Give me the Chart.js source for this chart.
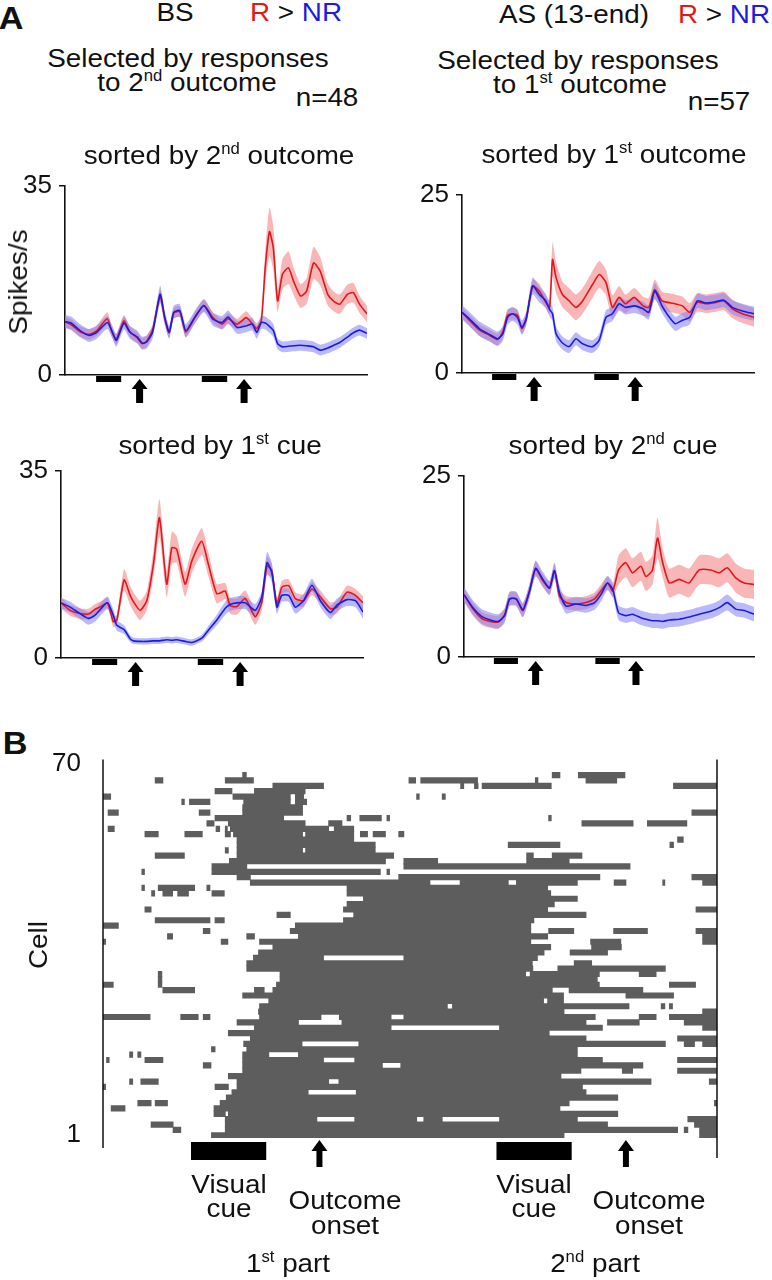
<!DOCTYPE html>
<html>
<head>
<meta charset="utf-8">
<title>R vs NR responses</title>
<script src="https://cdn.jsdelivr.net/npm/chart.js@4.4.1/dist/chart.umd.min.js"></script>
<style>
  html, body { margin: 0; padding: 0; background: #fff; }
  #page { position: relative; width: 772px; height: 1280px; overflow: hidden;
          font-family: "Liberation Sans", Arial, sans-serif; color: #111; }
  canvas { position: absolute; }
  .lbl { position: absolute; white-space: nowrap; line-height: 1; font-size: 26px; }
  .lbl sup { font-size: 0.6em; vertical-align: 0; position: relative; top: -0.62em; }
  .red { color: #e4161d; }
  .blue { color: #1c1ce0; }
</style>
</head>
<body>
<div id="page">
  <canvas id="chartTL"></canvas>
  <canvas id="chartTR"></canvas>
  <canvas id="chartBL"></canvas>
  <canvas id="chartBR"></canvas>
  <canvas id="chartRaster"></canvas>
</div>
<script>
// ---- Panel A data (time in % of trial window, rate in spikes/s) ----
const cueWindows = [[10.3, 18.6], [45.3, 53.7]];
const outcomeTimes = [24.7, 59.3];

// sorted by 2nd outcome (BS)
const timeTL = [0, 2, 5, 8, 10.5, 14, 15.5, 17, 19.5, 21.5, 24, 25.5, 27, 29, 31.5, 33, 34.5, 36, 38, 40, 43, 46, 49, 52, 54, 57, 60, 62, 63.5, 65, 66.3, 67.7, 69, 70.4, 72, 74, 75.7, 78, 80, 82.3, 84.5, 87, 89, 91, 93.5, 95.5, 97.5, 100];
const redTL = [9.8, 9.3, 8.0, 7.5, 8.2, 10.4, 8.0, 6.6, 10.0, 8.0, 6.8, 5.8, 6.2, 8.3, 14.6, 10.5, 7.8, 11.4, 11.7, 7.9, 10.6, 12.9, 10.6, 9.4, 10.4, 9.4, 10.6, 9.5, 8.6, 10.0, 19.8, 26.5, 23.4, 13.7, 18.6, 19.8, 17.3, 14.6, 15.5, 20.7, 19.2, 14.9, 13.6, 13.1, 14.9, 15.2, 13.1, 11.3];
const redSemTL = [1.0, 1.0, 1.0, 1.0, 1.0, 1.2, 1.0, 1.0, 1.1, 1.0, 1.0, 1.0, 1.0, 1.0, 1.2, 1.0, 1.0, 1.0, 1.0, 1.0, 1.0, 1.1, 1.0, 1.0, 1.0, 1.0, 1.2, 1.0, 1.0, 1.0, 3.0, 4.5, 4.0, 2.0, 2.8, 3.0, 2.5, 2.2, 2.4, 3.0, 2.6, 2.0, 1.8, 1.8, 1.8, 1.8, 1.6, 1.5];
const blueTL = [9.9, 9.6, 8.2, 7.3, 7.9, 9.7, 8.2, 6.4, 9.6, 7.9, 7.0, 5.9, 6.1, 7.9, 14.9, 10.7, 7.9, 11.6, 11.9, 8.2, 10.7, 12.8, 10.3, 9.7, 10.7, 8.8, 9.1, 9.4, 7.9, 9.7, 9.6, 9.0, 8.2, 5.8, 5.2, 5.3, 5.4, 5.5, 5.4, 5.2, 4.6, 5.0, 5.5, 6.0, 7.0, 7.8, 8.3, 7.7];
const blueSemTL = [1.2, 1.2, 1.2, 1.2, 1.2, 1.2, 1.2, 1.2, 1.2, 1.2, 1.2, 1.2, 1.2, 1.2, 1.6, 1.3, 1.2, 1.2, 1.2, 1.2, 1.2, 1.2, 1.2, 1.2, 1.2, 1.2, 1.2, 1.2, 1.2, 1.2, 1.2, 1.2, 1.2, 1.0, 1.0, 1.0, 1.0, 1.0, 1.0, 1.0, 1.0, 1.0, 1.0, 1.0, 1.0, 1.0, 1.0, 1.0];

// sorted by 1st outcome (AS)
const timeTR = [0, 2.5, 6, 9.4, 12.2, 14, 15.6, 17.3, 19, 20.5, 22, 24.2, 26.5, 28.7, 30, 31, 32.2, 34.4, 36.7, 39, 41.3, 44.7, 47, 49.3, 51.5, 53.8, 56, 59, 62, 64, 66, 68.5, 70.5, 73, 75.5, 78, 80.6, 83.5, 87, 89.7, 92.6, 96, 100];
const redTR = [8.5, 7.4, 6.0, 5.3, 4.7, 5.8, 8.1, 8.3, 8.1, 6.2, 7.6, 12.2, 11.5, 9.9, 9.2, 15.9, 13.4, 11.0, 10.1, 9.2, 10.1, 12.4, 13.8, 12.7, 9.2, 10.6, 9.7, 10.6, 9.4, 9.2, 11.7, 10.1, 9.9, 9.7, 9.4, 8.5, 9.9, 9.7, 9.9, 10.1, 9.0, 8.3, 7.8];
const redSemTR = [0.8, 0.8, 0.8, 0.8, 0.8, 0.8, 0.8, 0.8, 0.8, 0.8, 0.8, 0.9, 1.0, 0.9, 1.0, 2.4, 2.2, 1.8, 1.8, 1.8, 1.8, 1.9, 1.9, 1.8, 1.7, 1.6, 1.3, 1.3, 1.3, 1.3, 1.4, 1.3, 1.3, 1.3, 1.3, 1.3, 1.3, 1.3, 1.3, 1.3, 1.3, 1.3, 1.3];
const blueTR = [8.5, 7.6, 6.2, 5.4, 4.8, 5.5, 7.8, 8.3, 7.8, 6.4, 7.6, 12.2, 11.0, 10.1, 8.9, 8.3, 5.5, 4.2, 3.7, 4.8, 4.1, 3.7, 4.6, 7.8, 8.3, 9.7, 9.2, 9.4, 9.0, 8.5, 11.5, 9.4, 8.1, 6.9, 7.4, 7.8, 10.1, 9.8, 10.0, 10.2, 9.2, 8.7, 8.3];
const blueSemTR = [1.0, 1.0, 1.0, 1.0, 1.0, 1.0, 1.0, 1.0, 1.0, 1.0, 1.0, 1.2, 1.1, 1.0, 1.0, 1.0, 1.0, 0.9, 0.9, 0.9, 0.9, 0.9, 0.9, 1.0, 1.0, 1.0, 1.0, 1.0, 1.0, 1.0, 1.1, 1.0, 1.0, 1.0, 1.0, 1.0, 1.0, 1.0, 1.0, 1.0, 1.0, 1.0, 1.0];

// sorted by 1st cue (BS)
const timeBL = [0, 3, 6.3, 9.1, 11.3, 12.9, 15.4, 17.3, 18.5, 20.9, 22.9, 24, 26.2, 28.4, 30.6, 32.6, 35, 36.7, 38.3, 41.1, 43.3, 46.6, 48.8, 51.6, 54.4, 56, 58.2, 61, 64.3, 66.5, 68.2, 69.8, 71.5, 73.1, 75.4, 77.6, 80.3, 83.1, 85.9, 89.2, 91.4, 94.7, 97.5, 100];
const redBL = [10.3, 8.9, 8.3, 8.2, 9.1, 9.5, 10.3, 6.8, 7.1, 14.6, 11.7, 10.5, 8.9, 10.7, 17.5, 26.2, 13.8, 20.6, 20.3, 13.8, 18.1, 21.8, 17.5, 12.0, 12.5, 9.8, 9.6, 11.1, 7.7, 10.4, 17.2, 16.3, 10.1, 13.2, 13.5, 11.1, 10.7, 12.9, 11.4, 9.2, 9.5, 12.3, 11.7, 10.3];
const redSemBL = [1.0, 1.0, 1.0, 1.0, 1.0, 1.0, 1.0, 1.0, 1.0, 2.0, 1.8, 1.8, 1.8, 1.8, 2.5, 3.5, 2.5, 3.0, 2.5, 2.3, 2.3, 2.5, 2.2, 1.8, 1.5, 1.5, 1.5, 1.5, 1.5, 1.5, 1.8, 1.2, 1.2, 1.2, 1.2, 1.2, 1.2, 1.2, 1.2, 1.2, 1.2, 1.2, 1.2, 1.2];
const blueBL = [10.3, 9.5, 8.3, 7.4, 8.0, 9.0, 10.3, 8.0, 6.1, 5.3, 3.6, 3.2, 3.1, 3.1, 3.2, 3.2, 3.4, 3.3, 3.4, 3.1, 2.9, 3.7, 5.2, 7.1, 9.3, 10.0, 10.3, 10.3, 8.9, 11.4, 17.8, 16.0, 9.5, 11.7, 11.7, 9.5, 10.7, 13.6, 10.7, 8.5, 9.9, 10.9, 10.7, 8.6];
const blueSemBL = [1.0, 1.0, 1.0, 1.2, 1.2, 1.2, 1.2, 1.2, 1.0, 0.8, 0.6, 0.6, 0.6, 0.6, 0.6, 0.6, 0.6, 0.6, 0.6, 0.6, 0.6, 0.6, 0.8, 1.0, 1.2, 1.2, 1.2, 1.2, 1.2, 1.2, 2.0, 1.8, 1.2, 1.2, 1.2, 1.2, 1.2, 1.2, 1.2, 1.2, 1.2, 1.2, 1.2, 1.2];

// sorted by 2nd cue (AS)
const timeBR = [0, 3.1, 6.5, 11.7, 14, 15.7, 18, 20.3, 22.6, 24.7, 27.2, 29.5, 31.2, 32.9, 35.2, 38.6, 42.1, 45, 47.2, 49.5, 51.3, 53.3, 55.8, 58.1, 61, 62.7, 65, 66.7, 68.5, 70.8, 74.2, 77.6, 81.1, 85.1, 88, 90.8, 93.7, 96.6, 100];
const redBR = [8.6, 6.6, 5.2, 4.8, 5.8, 8.0, 8.0, 6.4, 9.1, 12.2, 10.5, 9.5, 11.9, 8.4, 7.5, 7.3, 7.5, 8.0, 9.1, 10.2, 9.1, 12.0, 13.0, 11.6, 12.5, 11.1, 12.0, 16.4, 13.0, 10.2, 10.7, 10.2, 12.0, 12.0, 11.6, 12.3, 10.9, 10.2, 10.0];
const redSemBR = [0.9, 0.9, 0.9, 0.9, 0.9, 0.9, 0.9, 0.9, 0.9, 1.0, 0.9, 0.9, 1.0, 0.9, 0.9, 0.9, 0.9, 0.9, 0.9, 0.9, 0.9, 2.0, 2.0, 2.0, 2.0, 2.0, 2.0, 2.8, 2.0, 2.0, 2.0, 2.0, 2.0, 2.0, 2.0, 2.0, 2.0, 2.0, 2.0];
const blueBR = [8.6, 6.8, 5.5, 4.9, 5.7, 8.0, 8.0, 6.5, 9.1, 12.2, 10.7, 9.5, 11.9, 8.9, 7.0, 7.3, 7.1, 7.5, 8.6, 10.2, 9.3, 6.1, 5.7, 5.9, 5.4, 5.2, 5.0, 5.0, 4.9, 5.1, 5.2, 5.5, 5.9, 6.3, 6.8, 7.5, 6.6, 6.4, 5.9];
const blueSemBR = [1.0, 1.0, 1.0, 1.0, 1.0, 1.0, 1.0, 1.0, 1.0, 1.1, 1.0, 1.0, 1.1, 1.0, 1.0, 1.0, 1.0, 1.0, 1.0, 1.0, 1.0, 1.0, 1.0, 1.0, 1.0, 1.0, 1.0, 1.0, 1.0, 1.0, 1.0, 1.0, 1.0, 1.0, 1.0, 1.1, 1.0, 1.0, 1.0];

// ---- Panel B data: significant epochs per cell, [cell, startBin, endBin] ----
const cellCount = 70;
const rasterCueWindows = [[17.2, 31.9], [76.9, 91.6]];
const rasterOutcomeTimes = [42.3, 102.2];
const cellSegments = [
  [68, 27.3, 28.0], [68, 87.8, 89.3], [68, 92.9, 102.0],
  [67, 10.2, 11.7], [67, 23.9, 29.4], [67, 59.8, 61.1], [67, 62.1, 73.2], [67, 84.5, 85.0], [67, 94.4, 100.4],
  [66, 33.2, 43.1], [66, 69.9, 70.5], [66, 72.6, 73.3], [66, 74.1, 87.6], [66, 111.5, 120],
  [65, 21.9, 25.2], [65, 29.6, 39.5],
  [64, 0, 1.5], [64, 25.4, 36.6], [64, 37.6, 39.2], [64, 61.3, 61.8], [64, 66.3, 66.9],
  [63, 15.4, 15.9], [63, 16.9, 20.9], [63, 27.5, 36.6], [63, 37.6, 39.8],
  [62, 27.3, 39.0],
  [61, 1.0, 3.0], [61, 18.8, 20.9], [61, 27.3, 39.0], [61, 115.1, 120],
  [60, 21.9, 35.3], [60, 47.7, 48.4], [60, 50.2, 54.4], [60, 55.5, 56.0], [60, 87.1, 87.6],
  [59, 20.3, 21.7], [59, 24.5, 39.5], [59, 44.1, 46.7], [59, 93.6, 103.6], [59, 106.4, 114.1],
  [58, 1.0, 2.2], [58, 22.1, 22.8], [58, 23.9, 24.3], [58, 24.9, 44.1], [58, 45.2, 49.0],
  [57, 8.2, 10.8], [57, 16.0, 19.4], [57, 23.9, 24.9], [57, 25.5, 39.0], [57, 39.6, 49.0], [57, 50.3, 51.7], [57, 52.8, 55.2], [57, 57.8, 58.8],
  [56, 26.2, 49.0], [56, 112.3, 113.4],
  [55, 26.2, 53.2], [55, 79.2, 89.3], [55, 110.8, 111.5],
  [54, 23.9, 24.5], [54, 26.2, 39.0], [54, 39.6, 53.2],
  [53, 10.2, 15.9], [53, 26.2, 56.8], [53, 82.8, 84.1], [53, 87.8, 93.6],
  [52, 24.7, 55.2], [52, 58.8, 65.4], [52, 82.8, 91.1],
  [51, 21.3, 28.1], [51, 58.8, 103.0],
  [50, 7.6, 8.1], [50, 21.3, 54.2], [50, 55.5, 56.0],
  [49, 26.2, 28.8], [49, 57.8, 97.1], [49, 115.1, 120],
  [48, 28.8, 63.9], [48, 69.8, 79.2], [48, 80.8, 92.7], [48, 99.9, 102.2], [48, 109.4, 109.8], [48, 117.2, 120],
  [47, 7.6, 8.1], [47, 10.8, 17.9], [47, 20.3, 20.9], [47, 47.7, 86.9],
  [46, 9.5, 10.1], [46, 11.7, 13.6], [46, 14.6, 16.7], [46, 21.3, 23.7], [46, 47.7, 87.5],
  [45, 50.9, 92.7],
  [44, 47.7, 88.2],
  [43, 8.2, 9.4], [43, 47.0, 86.9], [43, 115.9, 120],
  [42, 34.0, 36.6], [42, 49.0, 94.4],
  [41, 10.2, 20.9], [41, 21.9, 23.7], [41, 47.0, 84.2],
  [40, 0, 3.0], [40, 37.6, 83.6],
  [39, 19.6, 20.9], [39, 36.6, 83.6], [39, 87.1, 92.0], [39, 99.8, 106.4], [39, 115.9, 120],
  [38, 12.6, 13.6], [38, 28.1, 29.6], [38, 38.2, 86.9], [38, 117.2, 120],
  [37, 0, 0.5], [37, 23.1, 24.4], [37, 30.6, 83.6], [37, 95.3, 101.2], [37, 117.2, 120],
  [36, 33.2, 87.5], [36, 95.5, 101.3],
  [35, 30.4, 86.2], [35, 91.3, 98.6],
  [34, 29.4, 43.1], [34, 58.8, 84.9],
  [33, 28.1, 83.9], [33, 92.1, 95.5],
  [32, 28.1, 84.0], [32, 88.9, 109.9],
  [31, 10.8, 11.5], [31, 34.6, 82.6], [31, 83.5, 97.0], [31, 104.8, 108.1],
  [30, 10.8, 11.5], [30, 34.6, 96.6],
  [29, 0, 2.0], [29, 10.8, 11.5], [29, 33.9, 97.0], [29, 110.7, 115.8],
  [28, 11.7, 17.9], [28, 29.6, 31.5], [28, 33.2, 87.8], [28, 91.1, 105.5],
  [27, 27.3, 90.0], [27, 102.2, 111.5],
  [26, 32.4, 86.1], [26, 86.9, 90.0],
  [25, 30.6, 67.3], [25, 68.3, 102.8], [25, 109.1, 109.8], [25, 110.7, 111.3],
  [24, 30.4, 90.1], [24, 117.2, 120],
  [23, 0, 9.2], [23, 15.2, 18.6], [23, 19.6, 20.9], [23, 30.6, 42.6], [23, 46.2, 56.3], [23, 58.8, 96.2], [23, 104.8, 108.1], [23, 110.7, 120],
  [22, 26.2, 38.2], [22, 46.7, 94.4], [22, 98.6, 104.8], [22, 113.6, 120],
  [21, 29.6, 56.3], [21, 77.5, 97.6], [21, 117.2, 120],
  [20, 24.5, 87.2],
  [19, 28.8, 94.4], [19, 112.3, 120],
  [18, 27.5, 38.9], [18, 50.0, 109.9], [18, 113.6, 115.6], [18, 117.2, 120],
  [17, 21.2, 21.9], [17, 28.1, 92.7],
  [16, 5.2, 5.8], [16, 6.8, 7.4], [16, 27.3, 32.4], [16, 38.2, 92.7],
  [15, 0.7, 1.2], [15, 8.2, 11.7], [15, 27.3, 43.1], [15, 49.2, 97.6], [15, 112.3, 120],
  [14, 19.6, 21.1], [14, 27.3, 54.6], [14, 58.2, 105.5],
  [13, 27.3, 93.4], [13, 101.5, 103.5], [13, 112.3, 120],
  [12, 24.5, 89.5],
  [11, 5.2, 5.8], [11, 7.4, 10.8], [11, 26.2, 44.1], [11, 46.1, 107.1], [11, 118.5, 120],
  [10, 0, 0.5], [10, 21.9, 24.5], [10, 26.2, 93.7],
  [9, 25.2, 40.1], [9, 49.5, 94.4],
  [8, 24.1, 100.6],
  [7, 6.8, 9.4], [7, 10.2, 12.6], [7, 22.9, 91.1], [7, 119.5, 120],
  [6, 1.6, 4.3], [6, 21.7, 89.3],
  [5, 21.7, 23.9], [5, 24.5, 100.6],
  [4, 23.9, 41.8], [4, 49.2, 61.3], [4, 62.7, 66.3], [4, 77.5, 92.7], [4, 114.3, 120],
  [3, 9.4, 13.7], [3, 23.9, 98.6], [3, 115.6, 120],
  [2, 13.7, 15.2], [2, 23.9, 112.3], [2, 113.6, 114.3], [2, 116.6, 120],
  [1, 21.2, 90.1], [1, 116.6, 120]
];

// ---- styling ----
const FONT = { family: '"Liberation Sans", Arial, sans-serif', size: 26 };
const RED = '#e4161d';
const BLUE = '#1c1ce0';
const RED_BAND = 'rgba(245, 130, 130, 0.58)';
const BLUE_BAND = 'rgba(130, 130, 245, 0.55)';
const AXIS_W = 60, PAD_T = 20, PAD_R = 12, AXIS_H = 40;

function drawArrow(ctx, x, tipY, len, headW, headH, stemW) {
    ctx.beginPath();
    ctx.moveTo(x, tipY);
    ctx.lineTo(x + headW / 2, tipY + headH);
    ctx.lineTo(x + stemW / 2, tipY + headH);
    ctx.lineTo(x + stemW / 2, tipY + len);
    ctx.lineTo(x - stemW / 2, tipY + len);
    ctx.lineTo(x - stemW / 2, tipY + headH);
    ctx.lineTo(x - headW / 2, tipY + headH);
    ctx.closePath();
    ctx.fill();
}

// cue bars and outcome arrows below the time axis
const eventMarks = {
    id: 'eventMarks',
    afterDraw(chart, args, opts) {
        const { ctx, chartArea } = chart;
        const x = chart.scales.x;
        ctx.save();
        ctx.fillStyle = '#000';
        opts.cues.forEach(([a, b]) => {
            const x0 = x.getPixelForValue(a);
            const x1 = x.getPixelForValue(b);
            ctx.fillRect(x0, chartArea.bottom + opts.barOff, x1 - x0, opts.barH);
        });
        opts.outcomes.forEach(t => {
            drawArrow(ctx, x.getPixelForValue(t), chartArea.bottom + opts.tipOff,
                opts.len, opts.headW, opts.headH, opts.stemW);
        });
        ctx.restore();
    }
};

// left/right frame lines of the raster
const rasterFrame = {
    id: 'rasterFrame',
    afterDraw(chart) {
        const { ctx, chartArea } = chart;
        ctx.save();
        ctx.strokeStyle = '#111';
        ctx.lineWidth = 1.5;
        ctx.beginPath();
        ctx.moveTo(chartArea.left, chartArea.top - 2);
        ctx.lineTo(chartArea.left, chartArea.bottom + 10);
        ctx.moveTo(chartArea.right, chartArea.top - 2);
        ctx.lineTo(chartArea.right, chartArea.bottom + 20);
        ctx.stroke();
        ctx.restore();
    }
};

function placeCanvas(canvas, left, top, w, h) {
    canvas.width = w;
    canvas.height = h;
    canvas.style.left = left + 'px';
    canvas.style.top = top + 'px';
    canvas.style.width = w + 'px';
    canvas.style.height = h + 'px';
}

function makeTrace(id, area, times, red, redSem, blue, blueSem, yMax) {
    const canvas = document.getElementById(id);
    const w = area.r - area.l + AXIS_W + PAD_R;
    const h = area.b - area.t + PAD_T + AXIS_H;
    placeCanvas(canvas, area.l - AXIS_W, area.t - PAD_T, w, h);

    const pts = vals => times.map((t, i) => ({ x: t, y: vals[i] }));
    const upper = (m, s) => times.map((t, i) => ({ x: t, y: m[i] + s[i] }));
    const lower = (m, s) => times.map((t, i) => ({ x: t, y: Math.max(0, m[i] - s[i]) }));
    const line = (data, color) => ({ data, borderColor: color, borderWidth: 1.6, pointRadius: 0, fill: false, tension: 0.2 });
    const edge = (data, fill, color) => ({ data, borderWidth: 0, pointRadius: 0, fill, backgroundColor: color, tension: 0.2 });

    return new Chart(canvas, {
        type: 'line',
        data: {
            datasets: [
                line(pts(blue), BLUE),
                line(pts(red), RED),
                edge(upper(blue, blueSem), '+1', BLUE_BAND),
                edge(lower(blue, blueSem), false, BLUE_BAND),
                edge(upper(red, redSem), '+1', RED_BAND),
                edge(lower(red, redSem), false, RED_BAND)
            ]
        },
        options: {
            responsive: false,
            animation: false,
            devicePixelRatio: 1,
            layout: { padding: { top: PAD_T, right: PAD_R, left: 0, bottom: 0 } },
            plugins: {
                legend: { display: false },
                tooltip: { enabled: false },
                eventMarks: {
                    cues: cueWindows, outcomes: outcomeTimes,
                    barOff: 1, barH: 6, tipOff: 4, len: 24, headW: 16, headH: 10, stemW: 7
                }
            },
            scales: {
                x: {
                    type: 'linear', min: 0, max: 100,
                    ticks: { display: false },
                    grid: { display: false },
                    border: { display: true, color: '#111', width: 1.6 },
                    afterFit: s => { s.height = AXIS_H; }
                },
                y: {
                    min: 0, max: yMax,
                    afterBuildTicks: s => { s.ticks = [{ value: 0 }, { value: yMax }]; },
                    ticks: { font: FONT, color: '#111', padding: 7 },
                    grid: { drawOnChartArea: false, drawTicks: true, tickLength: 6, color: '#111', lineWidth: 1.5 },
                    border: { display: true, color: '#111', width: 1.6 },
                    afterFit: s => { s.width = AXIS_W; }
                }
            }
        },
        plugins: [eventMarks]
    });
}

function makeRaster(id, area) {
    const canvas = document.getElementById(id);
    const axisW = 70, padB = 40;
    const w = area.r - area.l + axisW + PAD_R;
    const h = area.b - area.t + PAD_T + padB;
    placeCanvas(canvas, area.l - axisW, area.t - PAD_T, w, h);

    const cellLabels = Array.from({ length: cellCount }, (_, i) => String(cellCount - i));

    return new Chart(canvas, {
        type: 'bar',
        data: {
            labels: cellLabels,
            datasets: [{
                data: cellSegments.map(([c, s, e]) => ({ y: String(c), x: [s, e] })),
                backgroundColor: '#5d5d5d',
                borderWidth: 0,
                borderSkipped: false,
                barPercentage: 1,
                categoryPercentage: 1,
                grouped: false,
                inflateAmount: 0.4
            }]
        },
        options: {
            indexAxis: 'y',
            responsive: false,
            animation: false,
            devicePixelRatio: 1,
            layout: { padding: { top: PAD_T, right: PAD_R, left: 0, bottom: padB } },
            plugins: {
                legend: { display: false },
                tooltip: { enabled: false },
                eventMarks: {
                    cues: rasterCueWindows, outcomes: rasterOutcomeTimes,
                    barOff: 4, barH: 18, tipOff: 2, len: 27, headW: 16, headH: 11, stemW: 6
                }
            },
            scales: {
                x: { type: 'linear', min: 0, max: 120, display: false },
                y: {
                    type: 'category',
                    grid: { display: false },
                    border: { display: false },
                    ticks: {
                        autoSkip: false,
                        font: FONT, color: '#111', padding: 14,
                        callback: function (value) {
                            const lab = this.getLabelForValue(value);
                            return (lab === '70' || lab === '1') ? lab : '';
                        }
                    },
                    afterFit: s => { s.width = axisW; }
                }
            }
        },
        plugins: [eventMarks, rasterFrame]
    });
}

// ---- text labels (HTML, real text) ----
const RNR = '<span class="red">R</span> &gt; <span class="blue">NR</span>';
const texts = [
    { html: 'A', x: 11, base: 29, size: 32, bold: true },
    { html: 'BS', x: 175, base: 21 },
    { html: RNR, x: 296, base: 21 },
    { html: 'Selected by responses', x: 188, base: 67 },
    { html: 'to 2<sup>nd</sup> outcome', x: 187, base: 91 },
    { html: 'n=48', x: 327, base: 106 },
    { html: 'AS (13-end)', x: 574, base: 23 },
    { html: RNR, x: 724, base: 23 },
    { html: 'Selected by responses', x: 578, base: 69 },
    { html: 'to 1<sup>st</sup> outcome', x: 580, base: 93 },
    { html: 'n=57', x: 719, base: 110 },
    { html: 'sorted by 2<sup>nd</sup> outcome', x: 219, base: 164 },
    { html: 'sorted by 1<sup>st</sup> outcome', x: 614, base: 163 },
    { html: 'sorted by 1<sup>st</sup> cue', x: 220, base: 454 },
    { html: 'sorted by 2<sup>nd</sup> cue', x: 613, base: 454 },
    { html: 'Spikes/s', x: 18, y: 282, rotate: true },
    { html: 'B', x: 15, base: 754, size: 32, bold: true },
    { html: 'Cell', x: 38, y: 945, rotate: true },
    { html: 'Visual', x: 229, base: 1193 },
    { html: 'cue', x: 229, base: 1217 },
    { html: 'Outcome', x: 345, base: 1209 },
    { html: 'onset', x: 345, base: 1234 },
    { html: '1<sup>st</sup> part', x: 288, base: 1272 },
    { html: 'Visual', x: 534, base: 1193 },
    { html: 'cue', x: 534, base: 1217 },
    { html: 'Outcome', x: 649, base: 1209 },
    { html: 'onset', x: 649, base: 1234 },
    { html: '2<sup>nd</sup> part', x: 595, base: 1272 }
];

function addTexts() {
    const page = document.getElementById('page');
    texts.forEach(t => {
        const el = document.createElement('div');
        el.className = 'lbl';
        el.innerHTML = t.html;
        const size = t.size || 26;
        el.style.fontSize = size + 'px';
        if (t.bold) el.style.fontWeight = 'bold';
        el.style.left = t.x + 'px';
        if (t.rotate) {
            el.style.top = t.y + 'px';
            el.style.transform = 'translate(-50%, -50%) rotate(-90deg) scaleX(1.07)';
        } else {
            el.style.top = (t.base - 0.8465 * size) + 'px';
            el.style.transform = 'translateX(-50%) scaleX(1.07)';
        }
        page.appendChild(el);
    });
}

document.addEventListener('DOMContentLoaded', () => {
    makeTrace('chartTL', { l: 65, t: 183, r: 367, b: 375 }, timeTL, redTL, redSemTL, blueTL, blueSemTL, 35);
    makeTrace('chartTR', { l: 462, t: 192, r: 754, b: 373 }, timeTR, redTR, redSemTR, blueTR, blueSemTR, 25);
    makeTrace('chartBL', { l: 61, t: 468, r: 363, b: 658 }, timeBL, redBL, redSemBL, blueBL, blueSemBL, 35);
    makeTrace('chartBR', { l: 464, t: 473, r: 754, b: 657 }, timeBR, redBR, redSemBR, blueBR, blueSemBR, 25);
    makeRaster('chartRaster', { l: 103, t: 752, r: 717, b: 1138 });
    addTexts();
});
</script>
</body>
</html>
